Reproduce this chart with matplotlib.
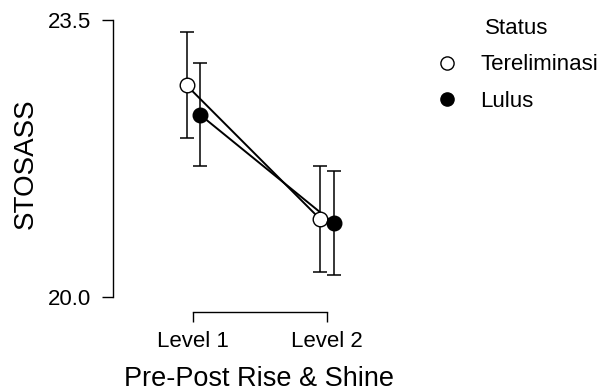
import matplotlib.pyplot as plt

plt.rcParams['font.family'] = ['Liberation Sans', 'DejaVu Sans']

levels = ['Level 1', 'Level 2']
status = ['Tereliminasi', 'Lulus']
means_tereliminasi = [22.67, 20.98]
ci_tereliminasi = [0.67, 0.67]
means_lulus = [22.30, 20.93]
ci_lulus = [0.65, 0.655]

W, H = 601, 391
fig = plt.figure(figsize=(W / 100, H / 100), dpi=100)
# axes placed in pixels: left spine at x=113, level 1 at 193, level 2 at 327
ax = fig.add_axes([113 / W, (H - 330) / H, (400 - 113) / W, (330 - 10) / H])

x_lo = -80.3 / 133.7
x_hi = x_lo + (400 - 113) / 133.7
ax.set_xlim(x_lo, x_hi)
px_per_unit = (297 - 19.5) / 3.5
y_lo = 20.0 - (330 - 297) / px_per_unit
y_hi = 23.5 + (19.5 - 10) / px_per_unit
ax.set_ylim(y_lo, y_hi)

dodge = 0.05
x = [0, 1]
series = [
    (means_tereliminasi, ci_tereliminasi, 'white', -dodge),
    (means_lulus, ci_lulus, 'black', dodge),
]
for (m, ci, fc, d), name in zip(series, status):
    xs = [xi + d for xi in x]
    ax.errorbar(xs, m, yerr=ci, fmt='none', ecolor='black', elinewidth=1.1,
                capsize=4.8, capthick=1.1, zorder=1)
    ax.plot(xs, m, color='black', linewidth=1.4, zorder=2)
    ax.plot(xs, m, 'o', markerfacecolor=fc, markeredgecolor='black',
            markersize=10.5, markeredgewidth=1, zorder=3, label=name)

for s in ['top', 'right']:
    ax.spines[s].set_visible(False)
ax.spines['left'].set_bounds(20.0, 23.5)
ax.spines['bottom'].set_bounds(0, 1)
ax.spines['bottom'].set_position(('data', 20.0 - 15 / px_per_unit))
ax.spines['left'].set_linewidth(1)
ax.spines['bottom'].set_linewidth(1)

ax.set_yticks([20.0, 23.5])
ax.set_yticklabels(['20.0', '23.5'])
ax.set_xticks(x)
ax.set_xticklabels(levels)
ax.tick_params(axis='both', labelsize=16, width=1, colors='black')
ax.tick_params(axis='y', length=8, pad=8)
ax.tick_params(axis='x', length=7, pad=6.5)

ax.set_ylabel('STOSASS', fontsize=20)
ax.yaxis.set_label_coords(-0.258, 0.519)
ax.set_xlabel('Pre-Post Rise & Shine', fontsize=19.5)
ax.xaxis.set_label_coords(0.507, -0.112)

handles = [
    plt.Line2D([], [], linestyle='none', marker='o', markerfacecolor='white',
               markeredgecolor='black', markersize=9.5),
    plt.Line2D([], [], linestyle='none', marker='o', markerfacecolor='black',
               markeredgecolor='black', markersize=9.5),
]
leg = fig.legend(handles, status, title='Status', loc='upper left',
                 bbox_to_anchor=(427 / W, 1 - 9 / H), frameon=False,
                 fontsize=16, title_fontsize=16, handlelength=1.0,
                 handletextpad=1.0, labelspacing=0.7, borderaxespad=0)

fig.savefig('out.png', dpi=100)
